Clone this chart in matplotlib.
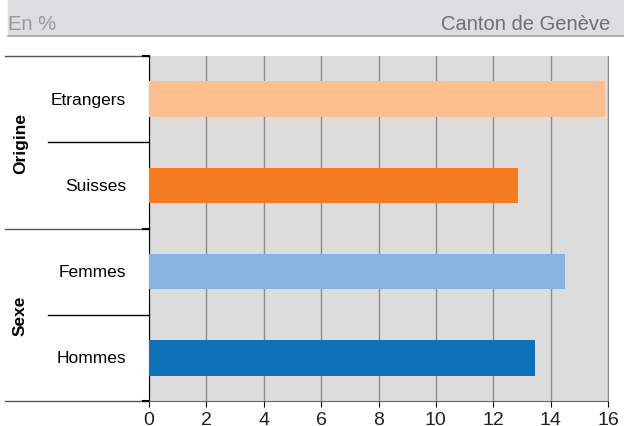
import matplotlib.pyplot as plt
from matplotlib.patches import Rectangle
from matplotlib.lines import Line2D

plt.rcParams['font.family'] = ['Liberation Sans', 'DejaVu Sans']

categories = ["Etrangers", "Suisses", "Femmes", "Hommes"]
values = [15.9, 12.85, 14.5, 13.45]
colors = ["#FBBF8F", "#F47B20", "#8AB4E0", "#1071BB"]
groups = ["Origine", "Sexe"]
xticks = [0, 2, 4, 6, 8, 10, 12, 14, 16]

fig = plt.figure(figsize=(6.24, 4.27), dpi=100)

# header band
fig.patches.append(Rectangle((8 / 624, 1 - 36 / 427), 1, 36 / 427,
                             transform=fig.transFigure, color="#DDDDDF", zorder=0))
fig.lines.append(Line2D([8 / 624, 1], [1 - 37 / 427] * 2, transform=fig.transFigure,
                        color="#A6A6A6", lw=1.2))
fig.text(8 / 624, 1 - 24 / 427, "En %", ha="left", va="center", fontsize=14.5, color="#999999")
fig.text(610 / 624, 1 - 24 / 427, "Canton de Genève", ha="right", va="center",
         fontsize=14.5, color="#707070")

ax = fig.add_axes([149 / 624, 1 - 402 / 427, 459 / 624, 345 / 427])
ax.set_facecolor("#DCDCDC")

ypos = [3, 2, 1, 0]
ax.barh(ypos, values, height=0.41, color=colors, zorder=3)

ax.set_xlim(0, 16)
ax.set_ylim(-0.5, 3.5)
ax.set_xticks(xticks)
ax.set_xticklabels([str(t) for t in xticks], fontsize=14, color="#222222")
ax.set_yticks([])
ax.tick_params(axis="x", length=4, color="black", pad=3)
ax.grid(axis="x", color="#8C8C8C", lw=1, zorder=1)

ax.spines["top"].set_visible(False)
ax.spines["right"].set_color("#8C8C8C")
ax.spines["bottom"].set_color("#666666")
ax.spines["left"].set_color("black")

# category labels
for y, c in zip(ypos, categories):
    ax.text(-0.05, y, c, transform=ax.get_yaxis_transform(), ha="right", va="center",
            fontsize=12.5, color="black")

# group separators
yt = ax.get_yaxis_transform()
for y in [3.5, 1.5, -0.5]:
    ax.plot([-0.3137, 0], [y, y], transform=yt, color="#555555", lw=1, clip_on=False)
    ax.plot([-0.012, 0], [y, y], transform=yt, color="black", lw=1.5, clip_on=False)
for y in [2.5, 0.5]:
    ax.plot([-0.22, 0], [y, y], transform=yt, color="black", lw=1, clip_on=False)

for g, y in zip(groups, [2.5, 0.5]):
    ax.text(-0.28, y, g, transform=yt, rotation=90, ha="center", va="center",
            fontsize=12.5, fontweight="bold")

fig.savefig("out.png", dpi=100)
